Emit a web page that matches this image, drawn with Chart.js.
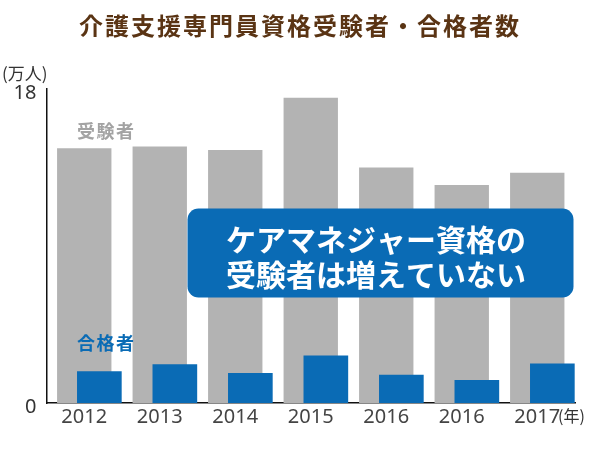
<!DOCTYPE html>
<html>
<head>
<meta charset="utf-8">
<script src="https://cdn.jsdelivr.net/npm/chart.js@4"></script>
<style>
  html, body { margin: 0; padding: 0; background: #fff; }
  #wrap { width: 600px; height: 450px; }
</style>
</head>
<body>
<div id="wrap"><canvas id="c" width="600" height="450"></canvas></div>
<script>
// ---- data ----
const categories = ['2012', '2013', '2014', '2015', '2016', '2016', '2017'];
const examinees = [14.6, 14.7, 14.5, 17.5, 13.5, 12.5, 13.2];   // 受験者 (万人)
const passers   = [1.8, 2.2, 1.7, 2.7, 1.6, 1.3, 2.25];        // 合格者 (万人)
const yTicks = [0, 18];
const titleText = '介護支援専門員資格受験者・合格者数';
const unitText = '(万人)';
const yearText = '(年)';
const examLabel = '受験者';
const passLabel = '合格者';
const calloutLines = ['ケアマネジャー資格の', '受験者は増えていない'];

// ---- styles ----
const GRAY = '#b3b3b3';
const BLUE = '#0a6bb5';
const BROWN = '#5a3414';
const JP = '"Noto Sans CJK JP", "Noto Sans", sans-serif';
const passShift = 0.2; // blue bars sit slightly right of category centre

const extras = {
  id: 'extras',
  afterDatasetsDraw(chart) {
    const ctx = chart.ctx;
    ctx.save();
    // callout box
    const bx = 187.5, by = 208.5, bw = 386, bh = 89, r = 11;
    ctx.fillStyle = BLUE;
    ctx.beginPath();
    ctx.roundRect(bx, by, bw, bh, r);
    ctx.fill();
    ctx.fillStyle = '#ffffff';
    ctx.font = 'bold 30px ' + JP;
    ctx.textAlign = 'center';
    ctx.textBaseline = 'middle';
    ctx.fillText(calloutLines[0], 376, 240);
    ctx.fillText(calloutLines[1], 376, 275);

    // series labels
    ctx.font = 'bold 18px ' + JP;
    ctx.letterSpacing = '1.5px';
    ctx.textAlign = 'left';
    ctx.fillStyle = '#a3a3a3';
    ctx.fillText(examLabel, 77, 131);
    ctx.fillStyle = BLUE;
    ctx.fillText(passLabel, 77, 343);
    ctx.letterSpacing = '0px';

    // title
    ctx.font = 'bold 24px ' + JP;
    ctx.letterSpacing = '2px';
    ctx.fillStyle = BROWN;
    ctx.textAlign = 'center';
    ctx.fillText(titleText, 300, 26);
    ctx.letterSpacing = '0px';

    // unit labels
    ctx.font = '17px ' + JP;
    ctx.fillStyle = '#333';
    ctx.textAlign = 'left';
    ctx.fillText(unitText, 2, 74);
    ctx.font = '16px ' + JP;
    ctx.fillText(yearText, 558, 416);
    ctx.restore();
  }
};

new Chart(document.getElementById('c'), {
  type: 'bar',
  data: {
    labels: categories,
    datasets: [
      {
        label: passLabel,
        data: passers.map((v, i) => ({ x: i, y: v })),
        xAxisID: 'x2',
        backgroundColor: BLUE,
        barThickness: 44,
        grouped: false,
        order: 0
      },
      {
        label: examLabel,
        data: examinees,
        xAxisID: 'x',
        backgroundColor: GRAY,
        categoryPercentage: 1,
        barPercentage: 0.72,
        grouped: false,
        order: 1
      }
    ]
  },
  options: {
    responsive: false,
    animation: false,
    layout: { padding: { top: 89, right: 25, left: 0, bottom: 0 } },
    plugins: { legend: { display: false }, tooltip: { enabled: false }, title: { display: false } },
    scales: {
      x: {
        type: 'category',
        grid: { display: false, drawTicks: false },
        border: { display: true, color: '#111', width: 1.5 },
        ticks: { color: '#444', font: { family: '"Noto Sans", sans-serif', size: 20 }, padding: 2, maxRotation: 0 },
        afterFit(scale) { scale.height = 47; }
      },
      x2: {
        type: 'linear',
        display: false,
        offset: false,
        min: -0.5 - passShift,
        max: categories.length - 0.5 - passShift,
        grid: { display: false, offset: false }
      },
      y: {
        min: yTicks[0],
        max: yTicks[yTicks.length - 1],
        afterBuildTicks(scale) { scale.ticks = yTicks.map(v => ({ value: v })); },
        grid: { display: false, drawTicks: false },
        border: { display: true, color: '#111', width: 1.5 },
        ticks: { color: '#333', font: { family: '"Noto Sans", sans-serif', size: 20 }, padding: 10, labelOffset: 4 },
        afterFit(scale) { scale.width = 46.5; }
      }
    }
  },
  plugins: [extras]
});
</script>
</body>
</html>
